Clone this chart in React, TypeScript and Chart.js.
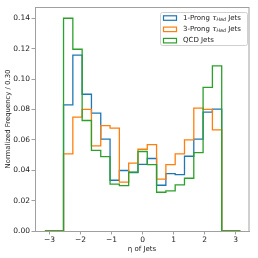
import React, { useEffect, useRef } from "react";
import { Chart, registerables } from "chart.js";

Chart.register(...registerables);

const binEdges = [-3.15, -2.85, -2.55, -2.25, -1.95, -1.65, -1.35, -1.05, -0.75, -0.45, -0.15, 0.15, 0.45, 0.75, 1.05, 1.35, 1.65, 1.95, 2.25, 2.55, 2.85, 3.15];
const oneProng = [0, 0, 0.083, 0.1157, 0.090, 0.0776, 0.0604, 0.0334, 0.0398, 0.0385, 0.0438, 0.0477, 0.0301, 0.0377, 0.0371, 0.0492, 0.0604, 0.0782, 0.0802, 0, 0];
const threeProng = [0, 0, 0.0508, 0.0749, 0.0800, 0.0560, 0.0694, 0.0677, 0.0321, 0.0446, 0.0538, 0.0569, 0.0341, 0.0437, 0.0508, 0.0600, 0.0809, 0.0800, 0.0666, 0, 0];
const qcd = [0, 0, 0.1400, 0.1196, 0.0727, 0.0530, 0.0490, 0.0308, 0.0299, 0.0387, 0.0523, 0.0437, 0.0255, 0.0264, 0.0303, 0.0347, 0.0516, 0.0945, 0.1086, 0, 0];
const xTicks = [-3, -2, -1, 0, 1, 2, 3];
const yTicks = [0, 0.02, 0.04, 0.06, 0.08, 0.1, 0.12, 0.14];

const seriesNames = ["1-Prong", "3-Prong", "QCD Jets"];
const colors = ["#1f77b4", "#ff7f0e", "#2ca02c"];
const FONT = "'DejaVu Sans', sans-serif";
const SPINE = "#a0a0a0";

const toPoints = (vals: number[]) =>
  binEdges.map((x, i) => ({ x, y: vals[Math.min(i, vals.length - 1)] }));

const framePlugin = {
  id: "frameAndLegend",
  afterDraw(chart: any) {
    const { ctx, chartArea } = chart;
    ctx.save();
    ctx.strokeStyle = SPINE;
    ctx.lineWidth = 1;
    ctx.strokeRect(chartArea.left + 0.5, chartArea.top + 0.5, chartArea.right - chartArea.left - 0.5, chartArea.bottom - chartArea.top);

    // legend
    const bx = chartArea.right - 89;
    const by = chartArea.top + 5;
    const bw = 87;
    const bh = 33;
    ctx.beginPath();
    ctx.roundRect(bx + 0.5, by + 0.5, bw, bh, 2);
    ctx.fillStyle = "rgba(255,255,255,0.85)";
    ctx.fill();
    ctx.strokeStyle = "#d0d0d0";
    ctx.stroke();
    for (let i = 0; i < 3; i++) {
      const cy = by + 6 + i * 11.3;
      ctx.strokeStyle = colors[i];
      ctx.lineWidth = 1.2;
      ctx.strokeRect(bx + 3.5, cy - 2.2, 13, 4.5);
      ctx.fillStyle = "#222";
      ctx.textBaseline = "middle";
      let tx = bx + 23;
      if (i < 2) {
        ctx.font = `7px ${FONT}`;
        const t1 = seriesNames[i] + " ";
        ctx.fillText(t1, tx, cy);
        tx += ctx.measureText(t1).width;
        ctx.font = `italic 7px ${FONT}`;
        ctx.fillText("τ", tx, cy);
        tx += ctx.measureText("τ").width;
        ctx.font = `italic 4.8px ${FONT}`;
        ctx.fillText("Had", tx, cy + 1.5);
        tx += ctx.measureText("Had").width;
        ctx.font = `7px ${FONT}`;
        ctx.fillText(" Jets", tx, cy);
      } else {
        ctx.font = `7px ${FONT}`;
        ctx.fillText(seriesNames[i], tx, cy);
      }
    }
    ctx.restore();
  },
};

export default function App() {
  const ref = useRef<HTMLCanvasElement>(null);
  useEffect(() => {
    if (!ref.current) return;
    const chart = new Chart(ref.current, {
      type: "line",
      data: {
        datasets: [oneProng, threeProng, qcd].map((vals, i) => ({
          label: seriesNames[i],
          data: toPoints(vals),
          borderColor: colors[i],
          borderWidth: 1.3,
          pointRadius: 0,
          fill: false,
          stepped: "before" as const,
          order: 3 - i,
        })),
      },
      options: {
        animation: false,
        responsive: false,
        layout: { padding: { left: 0, top: 7, right: 9, bottom: 0 } },
        plugins: { legend: { display: false }, tooltip: { enabled: false } },
        scales: {
          x: {
            type: "linear",
            min: -3.47,
            max: 3.43,
            afterBuildTicks: (s: any) => { s.ticks = xTicks.map((v) => ({ value: v })); },
            afterFit: (s: any) => { s.height = 27; },
            grid: { drawOnChartArea: false, drawTicks: true, tickLength: 3.5, tickColor: SPINE },
            border: { display: true, color: SPINE },
            ticks: {
              color: "#222",
              font: { family: FONT, size: 7.5 },
              padding: 1,
              maxRotation: 0,
              callback: (v: any) => String(v).replace("-", "\u2212"),
            },
            title: {
              display: true,
              text: "η of Jets",
              color: "#222",
              font: { family: FONT, size: 7 },
              padding: { top: 0, bottom: 5 },
            },
          },
          y: {
            type: "linear",
            min: 0,
            max: 0.1474,
            afterBuildTicks: (s: any) => { s.ticks = yTicks.map((v) => ({ value: v })); },
            afterFit: (s: any) => { s.width = 35; },
            grid: { drawOnChartArea: false, drawTicks: true, tickLength: 3.5, tickColor: SPINE },
            border: { display: true, color: SPINE },
            ticks: {
              color: "#222",
              font: { family: FONT, size: 7.5 },
              padding: 1.5,
              callback: (v: any) => Number(v).toFixed(2),
            },
            title: {
              display: true,
              text: "Normalized Frequency / 0.30",
              color: "#222",
              font: { family: FONT, size: 6.9 },
              padding: { top: 4, bottom: 0 },
            },
          },
        },
      },
      plugins: [framePlugin],
    });
    return () => chart.destroy();
  }, []);
  return (
    <div style={{ position: "fixed", left: 0, top: 0, width: 258, height: 258, background: "#fff" }}>
      <canvas ref={ref} width={258} height={258} />
    </div>
  );
}
